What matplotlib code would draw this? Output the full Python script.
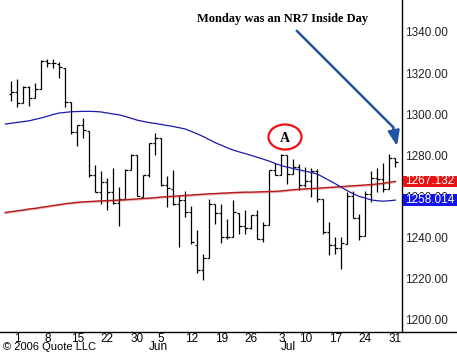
import numpy as np
import pandas as pd
import matplotlib
matplotlib.use("Agg")
import matplotlib.pyplot as plt
from matplotlib.patches import Ellipse, Rectangle
from matplotlib import transforms

# S&P 500 diario, 28 abr - 31 jul 2006
fechas = ["2006-04-28",
          "2006-05-01", "2006-05-02", "2006-05-03", "2006-05-04", "2006-05-05",
          "2006-05-08", "2006-05-09", "2006-05-10", "2006-05-11", "2006-05-12",
          "2006-05-15", "2006-05-16", "2006-05-17", "2006-05-18", "2006-05-19",
          "2006-05-22", "2006-05-23", "2006-05-24", "2006-05-25", "2006-05-26",
          "2006-05-30", "2006-05-31", "2006-06-01", "2006-06-02",
          "2006-06-05", "2006-06-06", "2006-06-07", "2006-06-08", "2006-06-09",
          "2006-06-12", "2006-06-13", "2006-06-14", "2006-06-15", "2006-06-16",
          "2006-06-19", "2006-06-20", "2006-06-21", "2006-06-22", "2006-06-23",
          "2006-06-26", "2006-06-27", "2006-06-28", "2006-06-29", "2006-06-30",
          "2006-07-03", "2006-07-05", "2006-07-06", "2006-07-07",
          "2006-07-10", "2006-07-11", "2006-07-12", "2006-07-13", "2006-07-14",
          "2006-07-17", "2006-07-18", "2006-07-19", "2006-07-20", "2006-07-21",
          "2006-07-24", "2006-07-25", "2006-07-26", "2006-07-27", "2006-07-28",
          "2006-07-31"]

apertura = [1309.7, 1310.6, 1305.2, 1313.2, 1307.9, 1312.3, 1325.8, 1324.7, 1324.6, 1322.6,
            1305.9, 1291.2, 1294.5, 1291.7, 1270.3, 1261.8, 1267.0, 1262.1, 1256.6, 1258.4,
            1272.7, 1280.0, 1259.4, 1270.1, 1285.7, 1288.2, 1265.2, 1263.6, 1256.1, 1257.9,
            1252.3, 1236.1, 1223.7, 1230.0, 1256.2, 1251.5, 1240.1, 1240.1, 1251.9, 1245.6,
            1244.5, 1250.6, 1239.0, 1245.9, 1272.9, 1270.1, 1280.1, 1270.6, 1274.1, 1265.5,
            1267.3, 1272.4, 1258.6, 1242.3, 1236.2, 1234.5, 1236.7, 1259.8, 1249.1, 1240.3,
            1260.9, 1268.9, 1268.2, 1263.2, 1278.5]
maximo = [1316.0, 1317.2, 1313.7, 1313.5, 1315.1, 1326.5, 1326.7, 1326.6, 1325.5, 1322.6,
          1305.9, 1294.8, 1297.9, 1291.7, 1274.9, 1272.2, 1268.8, 1273.7, 1264.5, 1273.3,
          1280.5, 1280.0, 1270.1, 1285.7, 1290.7, 1288.2, 1269.9, 1272.5, 1259.9, 1262.6,
          1255.2, 1243.4, 1231.5, 1258.6, 1256.3, 1255.9, 1249.0, 1258.0, 1251.9, 1253.1,
          1250.9, 1253.4, 1247.1, 1272.9, 1276.3, 1280.4, 1280.1, 1278.3, 1275.4, 1274.1,
          1273.6, 1273.3, 1258.6, 1247.1, 1240.1, 1239.9, 1261.8, 1262.6, 1251.0, 1262.5,
          1272.4, 1273.9, 1275.9, 1280.4, 1278.7]
minimo = [1306.2, 1303.5, 1305.2, 1303.9, 1307.9, 1312.3, 1322.9, 1322.5, 1317.4, 1303.5,
          1290.4, 1284.5, 1288.5, 1269.5, 1261.8, 1256.3, 1253.0, 1256.2, 1245.3, 1258.4,
          1272.5, 1259.9, 1259.4, 1269.2, 1280.2, 1264.7, 1254.5, 1255.8, 1235.2, 1250.0,
          1236.4, 1222.5, 1219.3, 1230.0, 1246.3, 1237.2, 1238.9, 1240.1, 1241.5, 1241.4,
          1243.7, 1238.9, 1237.6, 1245.9, 1270.2, 1270.1, 1265.9, 1270.6, 1263.1, 1264.5,
          1259.7, 1257.3, 1241.4, 1231.1, 1231.5, 1224.5, 1236.7, 1249.1, 1238.7, 1240.3,
          1257.2, 1261.9, 1261.9, 1263.2, 1274.3]
cierre = [1310.6, 1305.2, 1313.2, 1307.9, 1312.3, 1325.8, 1324.7, 1325.1, 1322.9, 1305.9,
          1291.2, 1294.5, 1292.1, 1270.3, 1261.8, 1267.0, 1262.1, 1256.6, 1258.6, 1272.9,
          1280.2, 1259.9, 1270.1, 1285.7, 1288.2, 1265.3, 1263.9, 1256.2, 1257.9, 1252.3,
          1237.4, 1223.7, 1230.0, 1256.2, 1251.5, 1240.1, 1240.1, 1252.2, 1245.6, 1244.5,
          1250.6, 1239.2, 1246.0, 1272.9, 1270.2, 1280.2, 1270.9, 1274.1, 1265.5, 1267.3,
          1272.4, 1258.6, 1242.3, 1236.2, 1234.5, 1236.9, 1259.8, 1249.1, 1240.3, 1260.9,
          1268.9, 1268.4, 1263.2, 1278.6, 1276.7]

# medias moviles (empiezan una sesion antes del primer bar)
media_azul = [1295.1, 1295.5, 1295.9, 1296.3, 1296.7, 1297.4, 1298.1, 1298.9, 1299.8, 1300.5,
              1300.8, 1301.1, 1301.2, 1301.3, 1301.3, 1301.2, 1301.0, 1300.5, 1300.0, 1299.6,
              1298.8, 1297.9, 1297.0, 1296.4, 1295.8, 1295.4, 1294.9, 1294.4, 1293.9, 1293.3,
              1292.7, 1291.5, 1290.3, 1289.0, 1287.5, 1286.0, 1284.8, 1283.5, 1282.4, 1281.5,
              1280.7, 1279.8, 1278.9, 1278.0, 1277.0, 1275.9, 1274.8, 1274.1, 1273.4, 1272.7,
              1272.1, 1271.5, 1270.7, 1269.2, 1267.6, 1266.0, 1264.3, 1262.6, 1261.1, 1259.8,
              1259.0, 1258.1, 1257.7, 1257.5, 1257.7, 1258.014]
media_roja = [1252.0, 1252.4, 1252.8, 1253.2, 1253.7, 1254.0, 1254.5, 1254.9, 1255.4, 1255.8,
              1256.3, 1256.6, 1256.9, 1257.2, 1257.3, 1257.5, 1257.6, 1257.8, 1257.9, 1258.0,
              1258.2, 1258.4, 1258.6, 1258.8, 1259.0, 1259.2, 1259.5, 1259.7, 1259.9, 1260.1,
              1260.3, 1260.5, 1260.7, 1260.9, 1261.1, 1261.2, 1261.4, 1261.5, 1261.7, 1261.8,
              1261.9, 1261.9, 1262.0, 1262.1, 1262.2, 1262.3, 1262.5, 1262.8, 1263.1, 1263.3,
              1263.5, 1263.7, 1263.8, 1264.0, 1264.2, 1264.4, 1264.6, 1264.8, 1265.0, 1265.2,
              1265.4, 1265.6, 1265.9, 1266.2, 1266.7, 1267.132]

niveles_y = [1200, 1220, 1240, 1260, 1280, 1300, 1320, 1340]
meses = ["Jun", "Jul"]
pos_meses = [24.6, 46.2]

W, H = 457, 352


def px(x, y):
    # pixel (desde arriba a la izquierda) -> fraccion de figura
    return x / W, 1 - y / H


fig = plt.figure(figsize=(W / 100, H / 100), dpi=100)
fig.patch.set_facecolor("white")
ax = fig.add_axes([0, 20 / H, 402 / W, 332 / H])

n = len(fechas)
x = np.arange(n)
ax.vlines(x, minimo, maximo, color="black", lw=0.9)
ax.hlines(apertura, x - 0.45, x, color="black", lw=0.9)
ax.hlines(cierre, x, x + 0.45, color="black", lw=0.9)

xm = np.arange(-1, n)
ax.plot(xm, np.array(media_roja) - 0.35, color="#f2b4b4", lw=1.4, zorder=1)
ax.plot(xm, media_roja, color="#b21a1a", lw=1.0, zorder=2)
ax.plot(xm, media_azul, color="#1a1aa8", lw=0.9, zorder=2)

ax.set_xlim(-1.883, 65.12)
ax.set_ylim(1193.7, 1355.6)

# ticks: primer dia de cada semana
d = pd.to_datetime(fechas)
semana = d.isocalendar().week.to_numpy()
idx = [i for i in range(1, n) if semana[i] != semana[i - 1]]
ax.set_xticks(idx)
ax.set_xticklabels([str(d[i].day) for i in idx], fontsize=8.5,
                   family="Liberation Sans")
ax.tick_params(axis="x", length=0, pad=0.8)

ax.yaxis.tick_right()
ax.set_yticks(niveles_y)
ax.set_yticklabels([f"{v:.2f}" for v in niveles_y], fontsize=8.5,
                   family="Liberation Sans", color="#222222")
ax.tick_params(axis="y", length=0, pad=2)

for s in ["top", "left"]:
    ax.spines[s].set_visible(False)
ax.spines["right"].set_linewidth(1.0)
ax.spines["bottom"].set_visible(False)
fig.add_artist(plt.Line2D([0, 1], [px(0, 332)[1]] * 2, color="black", lw=1.0))

for m, p in zip(meses, pos_meses):
    ax.text(p, -15.5 / 332, m, transform=transforms.blended_transform_factory(ax.transData, ax.transAxes),
            ha="center", va="center", fontsize=8.5, family="Liberation Sans")
fig.text(*px(3, 346.5), "\u00a9 2006 Quote LLC", ha="left", va="center",
         fontsize=8, family="Liberation Sans")

# cajas con el ultimo valor de las medias
tr = transforms.blended_transform_factory(fig.transFigure, ax.transData)
alto = 11.5 / 2.05
for val, col in [(media_roja[-1], "#e81212"), (media_azul[-1], "#1414e6")]:
    ax.add_patch(Rectangle((403 / W, val - alto / 2), 1 - 403 / W, alto, transform=tr,
                           facecolor=col, edgecolor="none", clip_on=False, zorder=5))
    ax.text(405 / W, val, f"{val:.3f}", transform=tr, color="white", ha="left",
            va="center", fontsize=8.5, family="Liberation Sans", zorder=6, clip_on=False)

# anotaciones
fig.text(*px(283, 19), "Monday was an NR7 Inside Day", ha="center", va="center",
         fontsize=9, fontweight="bold", family="Liberation Serif")
azul_flecha = "#1f56a3"
fig.add_artist(plt.Line2D([px(297, 31)[0], px(393, 127)[0]],
                          [px(297, 31)[1], px(393, 127)[1]], color=azul_flecha, lw=1.8))
ax.annotate("", xy=px(397, 146), xytext=px(393, 127), xycoords="figure fraction",
            textcoords="figure fraction",
            arrowprops=dict(arrowstyle="-|>,head_length=0.9,head_width=0.35",
                            color=azul_flecha, lw=1.8, shrinkA=0, shrinkB=0))

fig.add_artist(Ellipse(px(285, 137), 33 / W, 25 / H, transform=fig.transFigure,
                       fill=False, edgecolor="#ee1111", lw=1.6))
fig.text(*px(285, 138), "A", ha="center", va="center", fontsize=10,
         fontweight="bold", family="Liberation Serif")

fig.savefig("out.png", dpi=100)
